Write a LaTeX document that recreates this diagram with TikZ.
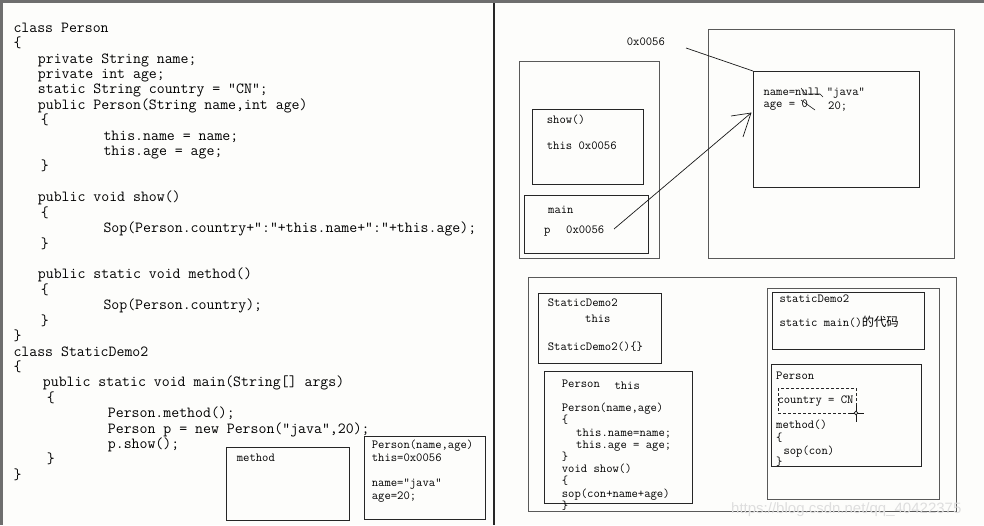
\documentclass[tikz,border=0pt]{standalone}
\usepackage{fontspec}
\newfontfamily\cjk{Noto Sans CJK SC}
\newfontfamily\wmfont{Liberation Sans}
\definecolor{bg}{RGB}{253,253,251}
\definecolor{frame}{RGB}{110,110,110}
\definecolor{wm}{RGB}{222,222,222}
\tikzset{
  code/.style={font=\fontsize{15.4}{18}\selectfont\ttfamily, anchor=base west, inner sep=0pt},
  small/.style={font=\fontsize{12.3}{14}\selectfont\ttfamily, anchor=base west, inner sep=0pt},
  box/.style={draw=black!85, line width=0.8pt},
  outer/.style={draw=black!65, line width=0.9pt},
  pen/.style={draw=black!90, line width=0.7pt},
}
\begin{document}
\begin{tikzpicture}[x=1pt,y=-1pt]
\fill[bg] (0,0) rectangle (984,525);
\useasboundingbox (0,0) rectangle (984,525);
% frame
\fill[frame] (0,0) rectangle (984,3);
\fill[frame] (0,0) rectangle (3,525);
\fill[black!85] (493,3) rectangle (495,525);

% left code
\foreach \i/\x/\t in {
 0/13.3/{class Person},
 1/13.3/{\{},
 2/37.7/{private String name;},
 3/37.7/{private int age;},
 4/37.7/{static String country = ”CN”;},
 5/37.7/{public Person(String name,int age)},
 6/40.7/{\{},
 7/103.3/{this.name = name;},
 8/103.3/{this.age = age;},
 9/40.7/{\}},
 11/37.7/{public void show()},
 12/40.7/{\{},
 13/103.3/{Sop(Person.country+”:”+this.name+”:”+this.age);},
 14/40.7/{\}},
 16/37.7/{public static void method()},
 17/40.7/{\{},
 18/103.3/{Sop(Person.country);},
 19/40.7/{\}},
 20/13.3/{\}},
 21/13.3/{class StaticDemo2},
 22/13.3/{\{},
 23/42.7/{public static void main(String[] args)},
 24/46.7/{\{},
 25/107.7/{Person.method();},
 26/107.7/{Person p = new Person(”java”,20);},
 27/107.7/{p.show();},
 28/46.7/{\}},
 29/13.3/{\}}}
 {\node[code] (code\i) at ({\x},{32.2+15.42*\i}) {\t};}

% left bottom boxes
\draw[box] (226,447) rectangle (349,520);
\node[small] (lmeth) at (236.7,461.8) {method};
\draw[box] (364,436) rectangle (485,519);
\node[small] (lp1) at (371.7,448.5) {Person(name,age)};
\node[small] (lp2) at (371.7,461.8) {this=0x0056};
\node[small] (lp3) at (371.7,486.2) {name=”java”};
\node[small] (lp4) at (371.7,499.2) {age=20;};

% top right: stack
\draw[outer] (519,61) rectangle (659,258);
\draw[box] (532,109) rectangle (643,184);
\node[small] (tshow) at (546.7,123.5) {show()};
\node[small] (tthis) at (546.7,149.2) {this 0x0056};
\draw[box] (524,195) rectangle (648,253);
\node[small] (tmain) at (548,213.5) {main};
\node[small] (tp) at (544,233) {p};
\node[small] (tpaddr) at (566,233.5) {0x0056};

% top right: heap
\draw[outer] (708,29) rectangle (954,258);
\node[box, anchor=north west, minimum width=166pt, minimum height=116pt, inner sep=0pt] (obj) at (753,71) {};
\node[small] (addr) at (626.7,45.8) {0x0056};
\node[small] (oname) at (763.3,95.8) {name=null};
\node[small] (oage) at (763.3,107.8) {age = 0};
\node[small] (ojava) at (826.7,95.8) {”java”};
\node[small] (o20) at (828,109.5) {20;};
% strike marks
\draw[pen, line width=0.6pt] (801,88) -- (806,95);
\draw[pen, line width=0.6pt] (808,94) -- (820,94) -- (823,97);
\draw[pen, line width=0.6pt] (801,100) -- (815,110);
% connectors
\coordinate (addrend) at (686,48);
\draw[pen] (addrend) -- (obj.north west);
\coordinate (pstart) at (614,229);
\coordinate (ptip) at (751,113);
\coordinate (hd1) at (731,116);
\coordinate (hd2) at (743,137);
\draw[pen] (pstart) -- (ptip);
\draw[pen] (hd1) -- (ptip) -- (hd2);

% bottom right: heap with classes
\draw[outer] (528,277) rectangle (956,511);
\draw[box] (538,293) rectangle (661,363);
\node[small] (s1) at (547.7,306.8) {StaticDemo2};
\node[small] (s2) at (585,322.5) {this};
\node[small] (s3) at (547.7,350.2) {StaticDemo2()\{\}};
\draw[box] (544,371) rectangle (692,503);
\node[small] (b1) at (561.7,387.8) {Person};
\node[small] (b1t) at (614.3,389.2) {this};
\node[small] (b2) at (561.7,411.8) {Person(name,age)};
\node[small] (b3) at (561.7,423.5) {\{};
\node[small] (b4) at (576,436.2) {this.name=name;};
\node[small] (b5) at (576,448.5) {this.age = age;};
\node[small] (b6) at (561.7,460.2) {\}};
\node[small] (b7) at (561.7,472.8) {void show()};
\node[small] (b8) at (561.7,484.2) {\{};
\node[small] (b9) at (561.7,497.5) {sop(con+name+age)};
\node[small] (b10) at (561.7,509.5) {\}};

% method area
\draw[outer] (767,288) rectangle (939,499);
\draw[box] (772,292) rectangle (924,349);
\node[small] (m1) at (779.3,302.8) {staticDemo2};
\node[small] (m2) at (779.3,326.2) {static main()\cjk 的代码};
\draw[box] (771,364) rectangle (921,466);
\node[small] (m3) at (776,379.5) {Person};
\draw[black!85, line width=0.7pt, dash pattern=on 3pt off 2pt] (778,388) rectangle (856,413);
\node[small] (m4) at (777.3,403.5) {country = CN};
\node[small] (m5) at (776,428.5) {method()};
\node[small] (m6) at (776,441.8) {\{};
\node[small] (m7) at (783.3,454.5) {sop(con)};
\node[small] (m8) at (776,465.2) {\}};
% cursor
\draw[pen] (856,405) -- (856,422);
\draw[pen] (849,413) -- (864,413);
\draw[pen, fill=bg] (856,413) circle (1.8pt);

% watermark
\node[font=\fontsize{15}{16}\selectfont\wmfont, text=wm, anchor=base west, inner sep=0pt] (wmark) at (731,513) {https://blog.csdn.net/qq\_40422375};
\end{tikzpicture}
\end{document}
